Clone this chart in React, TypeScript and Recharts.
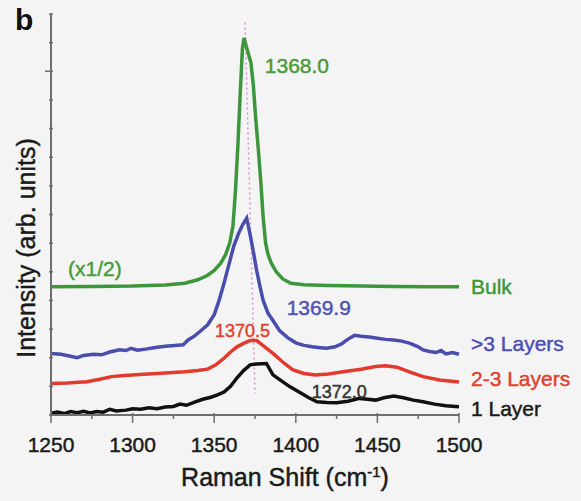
import { LineChart, Line, XAxis, YAxis, ReferenceLine, ReferenceDot } from "recharts";

// Raman D-band spectra, intensities in arbitrary stacked units
const bulkShift = [1250, 1275, 1300, 1320, 1332, 1340, 1346, 1350, 1354, 1357, 1359.5, 1361.5, 1363, 1364.5, 1366, 1367.3, 1368.3, 1369.5, 1372.5, 1374, 1375.5, 1377, 1378.5, 1380, 1381.5, 1383, 1385, 1388, 1392, 1397, 1405, 1420, 1440, 1460, 1480, 1500];
const bulkIntensity = [4.48, 4.49, 4.5, 4.54, 4.6, 4.72, 4.88, 5.05, 5.3, 5.6, 6.0, 6.6, 7.8, 9.4, 11.3, 12.8, 13.16, 12.9, 12.3, 11.5, 10.3, 9.3, 8.2, 6.9, 6.0, 5.6, 5.3, 5.0, 4.75, 4.6, 4.55, 4.52, 4.5, 4.49, 4.48, 4.48];

const multiShift = [1250, 1256, 1262, 1266, 1270, 1276, 1281, 1286, 1292, 1296, 1299, 1303, 1308, 1314, 1320, 1326, 1331, 1334, 1338, 1342, 1346, 1350, 1353, 1356, 1359, 1362, 1365, 1367.5, 1369.9, 1372, 1374, 1376, 1378, 1380, 1383, 1386, 1390, 1395, 1400, 1405, 1410, 1415, 1419, 1424, 1428, 1432, 1436, 1440, 1445, 1450, 1455, 1460, 1465, 1470, 1475, 1478, 1482, 1486, 1489, 1492, 1496, 1500];
const multiIntensity = [2.15, 2.12, 2.05, 2.0, 2.08, 2.12, 2.1, 2.2, 2.28, 2.25, 2.33, 2.26, 2.3, 2.36, 2.4, 2.43, 2.45, 2.62, 2.76, 2.95, 3.15, 3.5, 4.0, 4.6, 5.25, 5.9, 6.35, 6.65, 6.87, 6.3, 5.7, 5.05, 4.5, 4.0, 3.55, 3.3, 2.95, 2.7, 2.52, 2.43, 2.38, 2.35, 2.33, 2.38, 2.48, 2.65, 2.78, 2.75, 2.72, 2.68, 2.64, 2.62, 2.58, 2.5, 2.38, 2.27, 2.22, 2.18, 2.25, 2.13, 2.18, 2.12];

const fewShift = [1250, 1260, 1272, 1280, 1287, 1295, 1307, 1320, 1332, 1340, 1346, 1351, 1356, 1360, 1364, 1368, 1372, 1376, 1380, 1386, 1392, 1398, 1405, 1412, 1420, 1429, 1440, 1449, 1455, 1462, 1470, 1478, 1488, 1500];
const fewIntensity = [1.1, 1.12, 1.16, 1.25, 1.34, 1.38, 1.42, 1.47, 1.51, 1.55, 1.6, 1.75, 1.98, 2.2, 2.38, 2.5, 2.6, 2.6, 2.42, 2.15, 1.85, 1.58, 1.45, 1.4, 1.43, 1.51, 1.6, 1.69, 1.72, 1.67, 1.5, 1.34, 1.22, 1.15];

const singleShift = [1250, 1254, 1258, 1262, 1266, 1270, 1274, 1278, 1282, 1286, 1290, 1296, 1300, 1305, 1310, 1315, 1320, 1325, 1329, 1333, 1338, 1343, 1348, 1352, 1356, 1360, 1364, 1368, 1372, 1376, 1382, 1386, 1391, 1396, 1402, 1408, 1413, 1419, 1425, 1432, 1439, 1444, 1449, 1454, 1460, 1466, 1472, 1478, 1485, 1492, 1500];
const singleIntensity = [0.06, 0.1, 0.05, 0.12, 0.08, 0.13, 0.07, 0.12, 0.1, 0.2, 0.14, 0.17, 0.22, 0.2, 0.25, 0.22, 0.28, 0.3, 0.38, 0.34, 0.45, 0.55, 0.62, 0.7, 0.8, 1.0, 1.3, 1.55, 1.75, 1.78, 1.8, 1.4, 1.2, 1.0, 0.8, 0.6, 0.46, 0.44, 0.43, 0.48, 0.58, 0.55, 0.52, 0.6, 0.66, 0.6, 0.52, 0.46, 0.38, 0.32, 0.29];

const seriesNames = ["Bulk", ">3 Layers", "2-3 Layers", "1 Layer"];
const seriesColors = ["#3e963c", "#4a4cae", "#e23b2e", "#111111"];
const nameColors = ["#3f9637", "#4d4fb2", "#e0402f", "#1a1a1a"];
const nameLevels = [4.47, 2.48, 1.29, 0.21];

const peakTexts = ["1368.0", "1369.9", "1370.5", "1372.0", "(x1/2)"];
const peakTextX = [1381, 1394.4, 1350.5, 1409.7, 1260.4];
const peakTextY = [12.19, 3.74, 2.93, 0.82, 5.13];
const peakTextColor = ["#4a9a3a", "#5252b3", "#e0402f", "#333333", "#4a9a3a"];
const peakTextSize = [21, 21, 18, 18, 21];

// dotted guide following the peak position
const peakTrack = [
  { x: 1368.9, y: 13.7 },
  { x: 1375, y: 0.75 },
];

const xTicks = [1250, 1275, 1300, 1325, 1350, 1375, 1400, 1425, 1450, 1475, 1500];
const yTicks = [0, 1, 2, 3, 4, 5, 6, 7, 8, 9, 10, 11, 12, 13, 14];

const FONT = "'Liberation Sans', Arial, Helvetica, sans-serif";
const AXIS = "#6e6e6e";
const INK = "#1a1a1a";

const toPoints = (xs: number[], ys: number[]) => xs.map((x, i) => ({ x, y: ys[i] }));

const spectra = [
  toPoints(bulkShift, bulkIntensity),
  toPoints(multiShift, multiIntensity),
  toPoints(fewShift, fewIntensity),
  toPoints(singleShift, singleIntensity),
];

// slightly heavier text than the plain regular weight
const heavy = (color: string) => ({ fill: color, stroke: color, strokeWidth: 0.45 });

const BottomTick = ({ x, y, payload }: any) => {
  const major = payload.value % 50 === 0;
  return (
    <g>
      <line x1={x} x2={x} y1={y - (major ? 2 : 0)} y2={y + (major ? 8 : 4)} stroke={AXIS} strokeWidth={1.5} />
      {major && (
        <text x={x} y={y + 37} textAnchor="middle" fontFamily={FONT} fontSize={21} {...heavy(INK)}>
          {payload.value}
        </text>
      )}
    </g>
  );
};

const TopTick = ({ x, y, payload }: any) => {
  const major = payload.value % 50 === 0;
  return <line x1={x} x2={x} y1={y + (major ? 2 : 0)} y2={y - (major ? 7 : 3)} stroke={AXIS} strokeWidth={1.5} />;
};

const LeftTick = ({ x, y, payload }: any) => {
  const long = payload.value === 12;
  return <line x1={x - (long ? 6 : 2)} x2={x + 2} y1={y} y2={y} stroke={AXIS} strokeWidth={1.5} />;
};

const XTitle = ({ viewBox }: any) => {
  const vb = viewBox || { x: 51, y: 415, width: 408 };
  return (
    <text x={vb.x + vb.width / 2 + 30} y={vb.y + 71} textAnchor="middle" fontFamily={FONT} fontSize={25} {...heavy(INK)}>
      Raman Shift (cm
      <tspan dy={-9} fontSize={15}>-1</tspan>
      <tspan dy={9}>)</tspan>
    </text>
  );
};

const YTitle = () => (
  <text x={35} y={248} transform="rotate(-90, 35, 248)" textAnchor="middle" fontFamily={FONT} fontSize={25} {...heavy(INK)}>
    Intensity (arb. units)
  </text>
);

const textShape = (text: string, color: string, size: number, dx: number) => (p: any) => (
  <text x={p.cx + dx} y={p.cy} dominantBaseline="central" fontFamily={FONT} fontSize={size} {...heavy(color)}>
    {text}
  </text>
);

export default function App() {
  return (
    <div style={{ position: "absolute", left: 0, top: 0, width: 581, height: 501, background: "#f4f4f4", overflow: "hidden" }}>
      <LineChart width={581} height={501} margin={{ top: 14, right: 122, bottom: 0, left: 0 }}>
        <XAxis
          dataKey="x"
          type="number"
          domain={[1250, 1500]}
          ticks={xTicks}
          height={86}
          tickSize={0}
          tickMargin={0}
          tickLine={false}
          tick={<BottomTick />}
          axisLine={{ stroke: AXIS, strokeWidth: 2 }}
          allowDuplicatedCategory={false}
          label={<XTitle />}
        />
        <XAxis
          xAxisId="top"
          orientation="top"
          type="number"
          domain={[1250, 1500]}
          ticks={xTicks}
          height={0}
          tickSize={0}
          tickMargin={0}
          tickLine={false}
          tick={<TopTick />}
          axisLine={{ stroke: AXIS, strokeWidth: 2 }}
        />
        <YAxis
          type="number"
          domain={[0, 14]}
          ticks={yTicks}
          width={51}
          tickSize={0}
          tickMargin={0}
          tickLine={false}
          tick={<LeftTick />}
          axisLine={{ stroke: AXIS, strokeWidth: 2 }}
          label={<YTitle />}
        />
        <YAxis
          yAxisId="right"
          orientation="right"
          type="number"
          domain={[0, 14]}
          width={0}
          tick={false}
          tickLine={false}
          axisLine={{ stroke: AXIS, strokeWidth: 2 }}
        />
        <ReferenceLine segment={peakTrack} stroke="#d98fd6" strokeWidth={1.5} strokeDasharray="2 3" ifOverflow="visible" />
        {spectra.map((pts, i) => (
          <Line
            key={seriesNames[i]}
            data={pts}
            dataKey="y"
            type="linear"
            stroke={seriesColors[i]}
            strokeWidth={3.5}
            dot={false}
            isAnimationActive={false}
          />
        ))}
        {seriesNames.map((name, i) => (
          <ReferenceDot
            key={`name-${name}`}
            x={1500}
            y={nameLevels[i]}
            r={0}
            ifOverflow="visible"
            shape={textShape(name, nameColors[i], 21, 12)}
          />
        ))}
        {peakTexts.map((t, i) => (
          <ReferenceDot
            key={`peak-${t}`}
            x={peakTextX[i]}
            y={peakTextY[i]}
            r={0}
            ifOverflow="visible"
            shape={textShape(t, peakTextColor[i], peakTextSize[i], 0)}
          />
        ))}
      </LineChart>
      <svg width={60} height={45} style={{ position: "absolute", left: 0, top: 0 }}>
        <text x={15} y={30} fontFamily={FONT} fontSize={30} fontWeight="bold" fill="#111">
          b
        </text>
      </svg>
    </div>
  );
}
